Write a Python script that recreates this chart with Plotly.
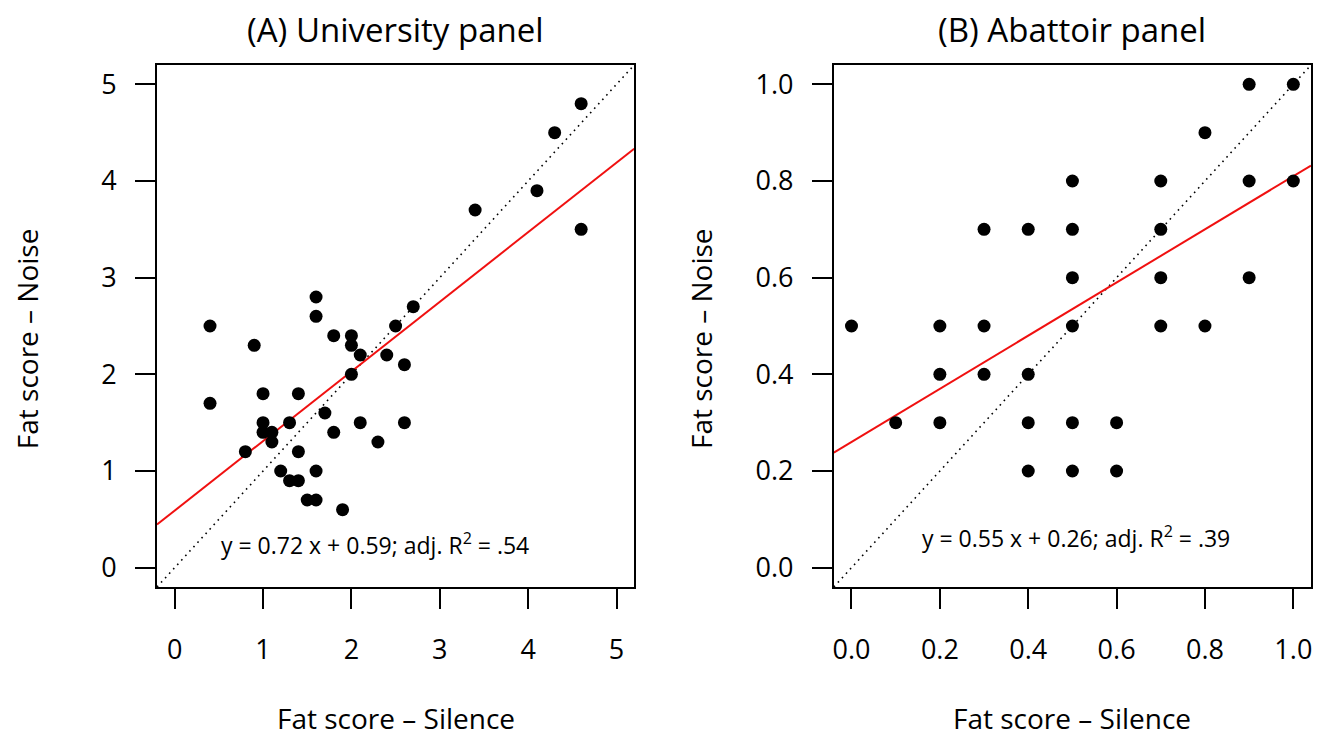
import plotly.graph_objects as go

# ---------------- Data ----------------
# Panel A: University panel
uni_silence = [1.6, 1.6, 0.4, 0.9, 1.8, 2.0, 2.0, 2.1, 2.4, 2.5, 2.7, 2.6, 2.0,
               0.4, 1.0, 1.4, 1.7, 1.0, 1.3, 1.0, 1.1, 1.1, 1.8, 2.1, 2.6, 2.3,
               0.8, 1.4, 1.2, 1.6, 1.3, 1.4, 1.5, 1.6, 1.9,
               4.6, 4.3, 4.1, 3.4, 4.6]
uni_noise = [2.8, 2.6, 2.5, 2.3, 2.4, 2.4, 2.3, 2.2, 2.2, 2.5, 2.7, 2.1, 2.0,
             1.7, 1.8, 1.8, 1.6, 1.5, 1.5, 1.4, 1.4, 1.3, 1.4, 1.5, 1.5, 1.3,
             1.2, 1.2, 1.0, 1.0, 0.9, 0.9, 0.7, 0.7, 0.6,
             4.8, 4.5, 3.9, 3.7, 3.5]
uni_fit = {"slope": 0.72, "intercept": 0.59}
uni_label = "y = 0.72 x + 0.59; adj. R<sup>2</sup> = .54"

# Panel B: Abattoir panel
aba_silence = [0.9, 1.0, 0.8, 0.5, 0.7, 0.9, 1.0, 0.3, 0.4, 0.5, 0.7, 0.5, 0.7, 0.9,
               0.0, 0.2, 0.3, 0.5, 0.7, 0.8, 0.2, 0.3, 0.4,
               0.1, 0.2, 0.4, 0.5, 0.6, 0.4, 0.5, 0.6]
aba_noise = [1.0, 1.0, 0.9, 0.8, 0.8, 0.8, 0.8, 0.7, 0.7, 0.7, 0.7, 0.6, 0.6, 0.6,
             0.5, 0.5, 0.5, 0.5, 0.5, 0.5, 0.4, 0.4, 0.4,
             0.3, 0.3, 0.3, 0.3, 0.3, 0.2, 0.2, 0.2]
aba_fit = {"slope": 0.55, "intercept": 0.26}
aba_label = "y = 0.55 x + 0.26; adj. R<sup>2</sup> = .39"

titles = ["(A) University panel", "(B) Abattoir panel"]
x_title = "Fat score \u2013 Silence"
y_title = "Fat score \u2013 Noise"

uni_ticks = [0, 1, 2, 3, 4, 5]
aba_ticks = [0.0, 0.2, 0.4, 0.6, 0.8, 1.0]
uni_range = [-0.2, 5.2]
aba_range = [-0.04, 1.04]

FONT = "Open Sans"

fig = go.Figure()

def add_panel(xs, ys, fit, rng, xa, ya):
    fig.add_trace(go.Scatter(x=rng, y=rng, mode="lines",
                             line=dict(color="black", width=1.6, dash="1.6px,4.4px"),
                             xaxis=xa, yaxis=ya, hoverinfo="skip", showlegend=False))
    fig.add_trace(go.Scatter(x=rng, y=[fit["intercept"] + fit["slope"] * v for v in rng],
                             mode="lines", line=dict(color="#f01010", width=2),
                             xaxis=xa, yaxis=ya, showlegend=False))
    fig.add_trace(go.Scatter(x=xs, y=ys, mode="markers",
                             marker=dict(color="black", size=13),
                             xaxis=xa, yaxis=ya, showlegend=False))

add_panel(uni_silence, uni_noise, uni_fit, uni_range, "x", "y")
add_panel(aba_silence, aba_noise, aba_fit, aba_range, "x2", "y2")

axis_common = dict(showline=True, linecolor="black", linewidth=2, mirror=True,
                   ticks="outside", ticklen=20, tickwidth=1.5, tickcolor="black",
                   showgrid=False, zeroline=False,
                   tickfont=dict(family=FONT, size=27, color="black"))

# the page has an 8px body margin; plot area placed to match the reference
fig.update_layout(
    width=1315, height=728,
    margin=dict(l=149, r=10, t=57, b=149),
    plot_bgcolor="white", paper_bgcolor="white",
    xaxis=dict(domain=[0, 0.4135], range=uni_range, tickvals=uni_ticks,
               anchor="y", ticklabelstandoff=18, **axis_common),
    yaxis=dict(domain=[0, 1], range=uni_range, tickvals=uni_ticks,
               anchor="x", ticklabelstandoff=13, **axis_common),
    xaxis2=dict(domain=[0.5865, 1], range=aba_range, tickvals=aba_ticks,
                tickformat=".1f", anchor="y2", ticklabelstandoff=18, **axis_common),
    yaxis2=dict(domain=[0, 1], range=aba_range, tickvals=aba_ticks,
                tickformat=".1f", anchor="x2", ticklabelstandoff=13, **axis_common),
)

ann = []
for t, xd in zip(titles, ["x domain", "x2 domain"]):
    ann.append(dict(text=t, xref=xd, yref="paper", x=0.5, y=1 + (65 - 29) / 522,
                    yanchor="middle", showarrow=False,
                    font=dict(family=FONT, size=33, color="black")))
    ann.append(dict(text=x_title, xref=xd, yref="paper", x=0.5, y=(587 - 718) / 522,
                    yanchor="middle", showarrow=False,
                    font=dict(family=FONT, size=28, color="black")))
for xp in [(27 - 157) / 1156, (702 - 157) / 1156]:
    ann.append(dict(text=y_title, xref="paper", yref="paper", x=xp, y=(587 - 339) / 522,
                    xanchor="center", yanchor="middle", textangle=-90, showarrow=False,
                    font=dict(family=FONT, size=28, color="black")))
ann.append(dict(text=uni_label, xref="x", yref="y", x=2.27, y=0.24, showarrow=False,
                font=dict(family=FONT, size=23, color="black")))
ann.append(dict(text=aba_label, xref="x2", yref="y2", x=0.508, y=0.064, showarrow=False,
                font=dict(family=FONT, size=23, color="black")))
fig.update_layout(annotations=ann)

fig.write_html("out.html")
